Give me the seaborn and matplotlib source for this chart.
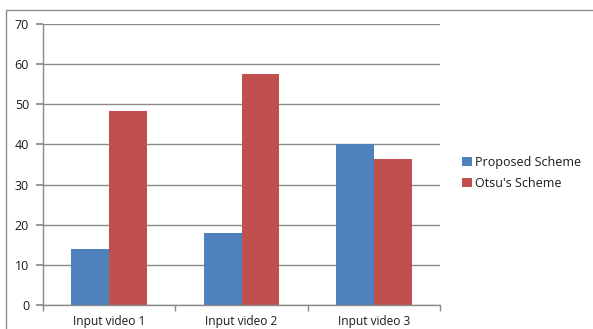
import matplotlib
matplotlib.use("Agg")
import matplotlib.pyplot as plt
import seaborn as sns
import pandas as pd
from matplotlib.patches import Rectangle
from matplotlib.ticker import FixedLocator

categories = ["Input video 1", "Input video 2", "Input video 3"]
proposed = [14.0, 17.9, 40.1]
otsu = [48.4, 57.6, 36.3]
series = ["Proposed Scheme", "Otsu's Scheme"]
yticks = [0, 10, 20, 30, 40, 50, 60, 70]

df = pd.DataFrame({
    "category": categories * 2,
    "value": proposed + otsu,
    "series": [series[0]] * 3 + [series[1]] * 3,
})

sns.set_theme(style="white")
plt.rcParams["font.family"] = ["Open Sans", "DejaVu Sans"]

fig = plt.figure(figsize=(5.93, 3.29), dpi=100)
ax = fig.add_axes([43 / 593, 24 / 329, (440 - 43) / 593, (305 - 24) / 329])

# outer chart frame
fig.patches.append(Rectangle((6 / 593, -0.1), 1.2, (329 - 10) / 329 + 0.1,
                             transform=fig.transFigure, fill=False,
                             edgecolor="#8c8c8c", linewidth=1.0))

sns.barplot(data=df, x="category", y="value", hue="series",
            palette=["#4F81BD", "#C0504D"], width=0.57, saturation=1,
            linewidth=0, ax=ax, legend=True)

ax.set_ylim(0, 70)
ax.set_xlim(-0.5, 2.5)
ax.set_yticks(yticks)
ax.yaxis.grid(True, color="#8a8a8a", linewidth=1.0)
ax.set_axisbelow(True)
ax.set_xlabel("")
ax.set_ylabel("")
for s in ["top", "right"]:
    ax.spines[s].set_visible(False)
for s in ["left", "bottom"]:
    ax.spines[s].set_color("#8a8a8a")
    ax.spines[s].set_linewidth(1.0)

ax.tick_params(axis="y", left=True, length=5, color="#8a8a8a", labelsize=9,
               labelcolor="#1a1a1a", pad=5)
ax.tick_params(axis="x", bottom=False, labelsize=8.6, labelcolor="#1a1a1a", pad=1.5)
ax.xaxis.set_minor_locator(FixedLocator([-0.5, 0.5, 1.5, 2.5]))
ax.tick_params(axis="x", which="minor", bottom=True, length=4, color="#8a8a8a")

handles, labels = ax.get_legend_handles_labels()
ax.legend(handles, labels, loc="center left", bbox_to_anchor=(1.028, 0.47),
          frameon=False, fontsize=9, handlelength=0.75, handleheight=0.75,
          handletextpad=0.3, labelspacing=0.6, labelcolor="#1a1a1a")

fig.savefig("out.png", dpi=100, facecolor="white")
